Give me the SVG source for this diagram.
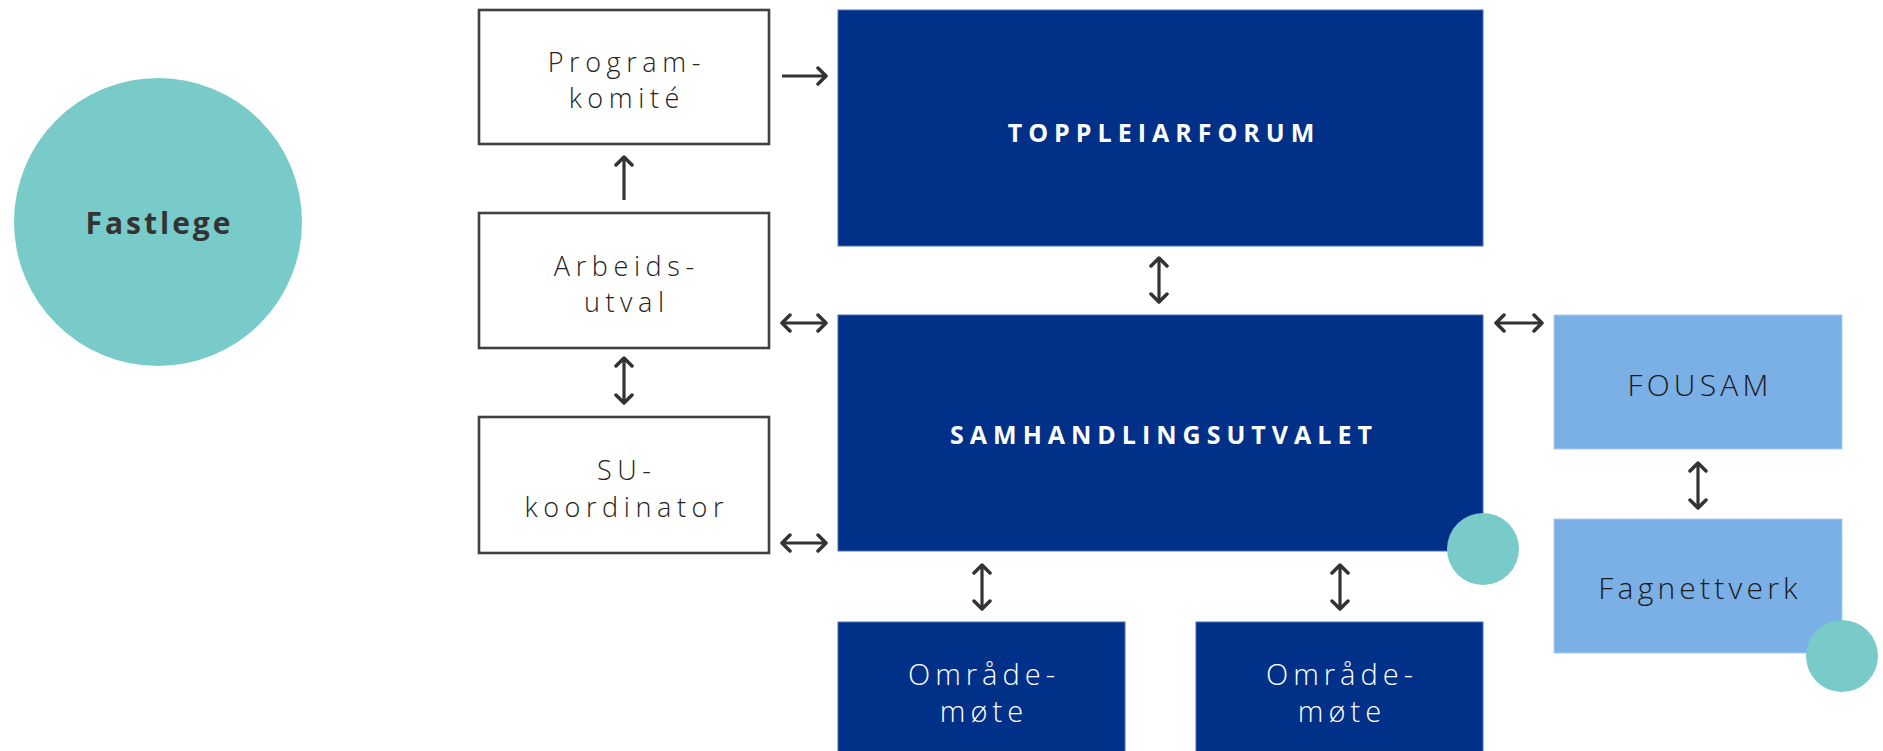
<svg xmlns="http://www.w3.org/2000/svg" width="1883" height="751" viewBox="0 0 1883 751">
  <style>
    .wbox { fill: #ffffff; stroke: #404040; stroke-width: 2.6; }
    .navy { fill: #003087; stroke: #4a6fb8; stroke-width: 1; }
    .light { fill: #7AB0E6; stroke: #a9cbef; stroke-width: 1; }
    .teal { fill: #78CBC8; }
    .lt { font-family: "Open Sans", "Liberation Sans", sans-serif; font-weight: 300; font-size: 27px; letter-spacing: 5.6px; fill: #222222; text-anchor: middle; }
    .rt { font-family: "Open Sans", "Liberation Sans", sans-serif; font-weight: 300; font-size: 30px; letter-spacing: 4.2px; text-anchor: middle; }
    .om { font-size: 29px; letter-spacing: 5px; }
    .dark { fill: #1a1a1a; }
    .white { fill: #ffffff; }
    .bt { font-family: "Open Sans", "Liberation Sans", sans-serif; font-weight: 700; font-size: 25px; letter-spacing: 6px; fill: #ffffff; text-anchor: middle; }
    .ft { font-family: "Open Sans", "Liberation Sans", sans-serif; font-weight: 700; font-size: 30px; letter-spacing: 3px; fill: #333333; text-anchor: middle; }
    .conn { stroke: #333333; stroke-width: 3.2; fill: none; }
  </style>
  <defs>
    <marker id="ah" markerUnits="userSpaceOnUse" markerWidth="14" markerHeight="20" viewBox="0 0 14 20" refX="11" refY="10" orient="auto-start-reverse">
      <path d="M3,2 L11,10 L3,18" fill="none" stroke="#333333" stroke-width="3.5" stroke-linecap="round" stroke-linejoin="round"/>
    </marker>
  </defs>

  <g id="fastlege">
    <circle class="teal" cx="158" cy="222" r="144"/>
    <text class="ft" x="159.5" y="234">Fastlege</text>
  </g>

  <g id="programkomite">
    <rect class="wbox" x="479" y="10" width="290" height="134"/>
    <text class="lt" x="626.8" y="72">Program-</text>
    <text class="lt" x="626.8" y="108">komité</text>
  </g>

  <g id="arbeidsutval">
    <rect class="wbox" x="479" y="213" width="290" height="135"/>
    <text class="lt" x="626.8" y="276">Arbeids-</text>
    <text class="lt" x="626.8" y="312">utval</text>
  </g>

  <g id="sukoordinator">
    <rect class="wbox" x="479" y="417" width="290" height="136"/>
    <text class="lt" x="626.8" y="480">SU-</text>
    <text class="lt" x="626.8" y="517">koordinator</text>
  </g>

  <g id="toppleiarforum">
    <rect class="navy" x="838" y="10" width="645" height="236"/>
    <text class="bt" x="1164" y="142">TOPPLEIARFORUM</text>
  </g>

  <g id="samhandlingsutvalet">
    <rect class="navy" x="838" y="315" width="645" height="236"/>
    <text class="bt" x="1164" y="444">SAMHANDLINGSUTVALET</text>
  </g>

  <g id="omrademote1">
    <rect class="navy" x="838" y="622" width="287" height="140"/>
    <text class="rt om white" x="984" y="685">Område-</text>
    <text class="rt om white" x="984" y="722">møte</text>
  </g>

  <g id="omrademote2">
    <rect class="navy" x="1196" y="622" width="287" height="140"/>
    <text class="rt om white" x="1342" y="685">Område-</text>
    <text class="rt om white" x="1342" y="722">møte</text>
  </g>

  <g id="fousam">
    <rect class="light" x="1554" y="315" width="288" height="134"/>
    <text class="rt dark" x="1700" y="396">FOUSAM</text>
  </g>

  <g id="fagnettverk">
    <rect class="light" x="1554" y="519" width="288" height="134"/>
    <text class="rt dark" x="1700" y="599">Fagnettverk</text>
  </g>

  <g id="decor">
    <circle class="teal" cx="1483" cy="549" r="36"/>
    <circle class="teal" cx="1842" cy="656" r="36"/>
  </g>

  <g id="connectors">
    <line class="conn" x1="782" y1="76" x2="826" y2="76" marker-end="url(#ah)"/>
    <line class="conn" x1="624" y1="200" x2="624" y2="157" marker-end="url(#ah)"/>
    <line class="conn" x1="624" y1="358" x2="624" y2="403" marker-start="url(#ah)" marker-end="url(#ah)"/>
    <line class="conn" x1="782" y1="323" x2="826" y2="323" marker-start="url(#ah)" marker-end="url(#ah)"/>
    <line class="conn" x1="782" y1="543" x2="826" y2="543" marker-start="url(#ah)" marker-end="url(#ah)"/>
    <line class="conn" x1="1159" y1="258" x2="1159" y2="302" marker-start="url(#ah)" marker-end="url(#ah)"/>
    <line class="conn" x1="1496" y1="323" x2="1542" y2="323" marker-start="url(#ah)" marker-end="url(#ah)"/>
    <line class="conn" x1="1698" y1="463" x2="1698" y2="508" marker-start="url(#ah)" marker-end="url(#ah)"/>
    <line class="conn" x1="982" y1="565" x2="982" y2="609" marker-start="url(#ah)" marker-end="url(#ah)"/>
    <line class="conn" x1="1340" y1="565" x2="1340" y2="609" marker-start="url(#ah)" marker-end="url(#ah)"/>
  </g>
</svg>
